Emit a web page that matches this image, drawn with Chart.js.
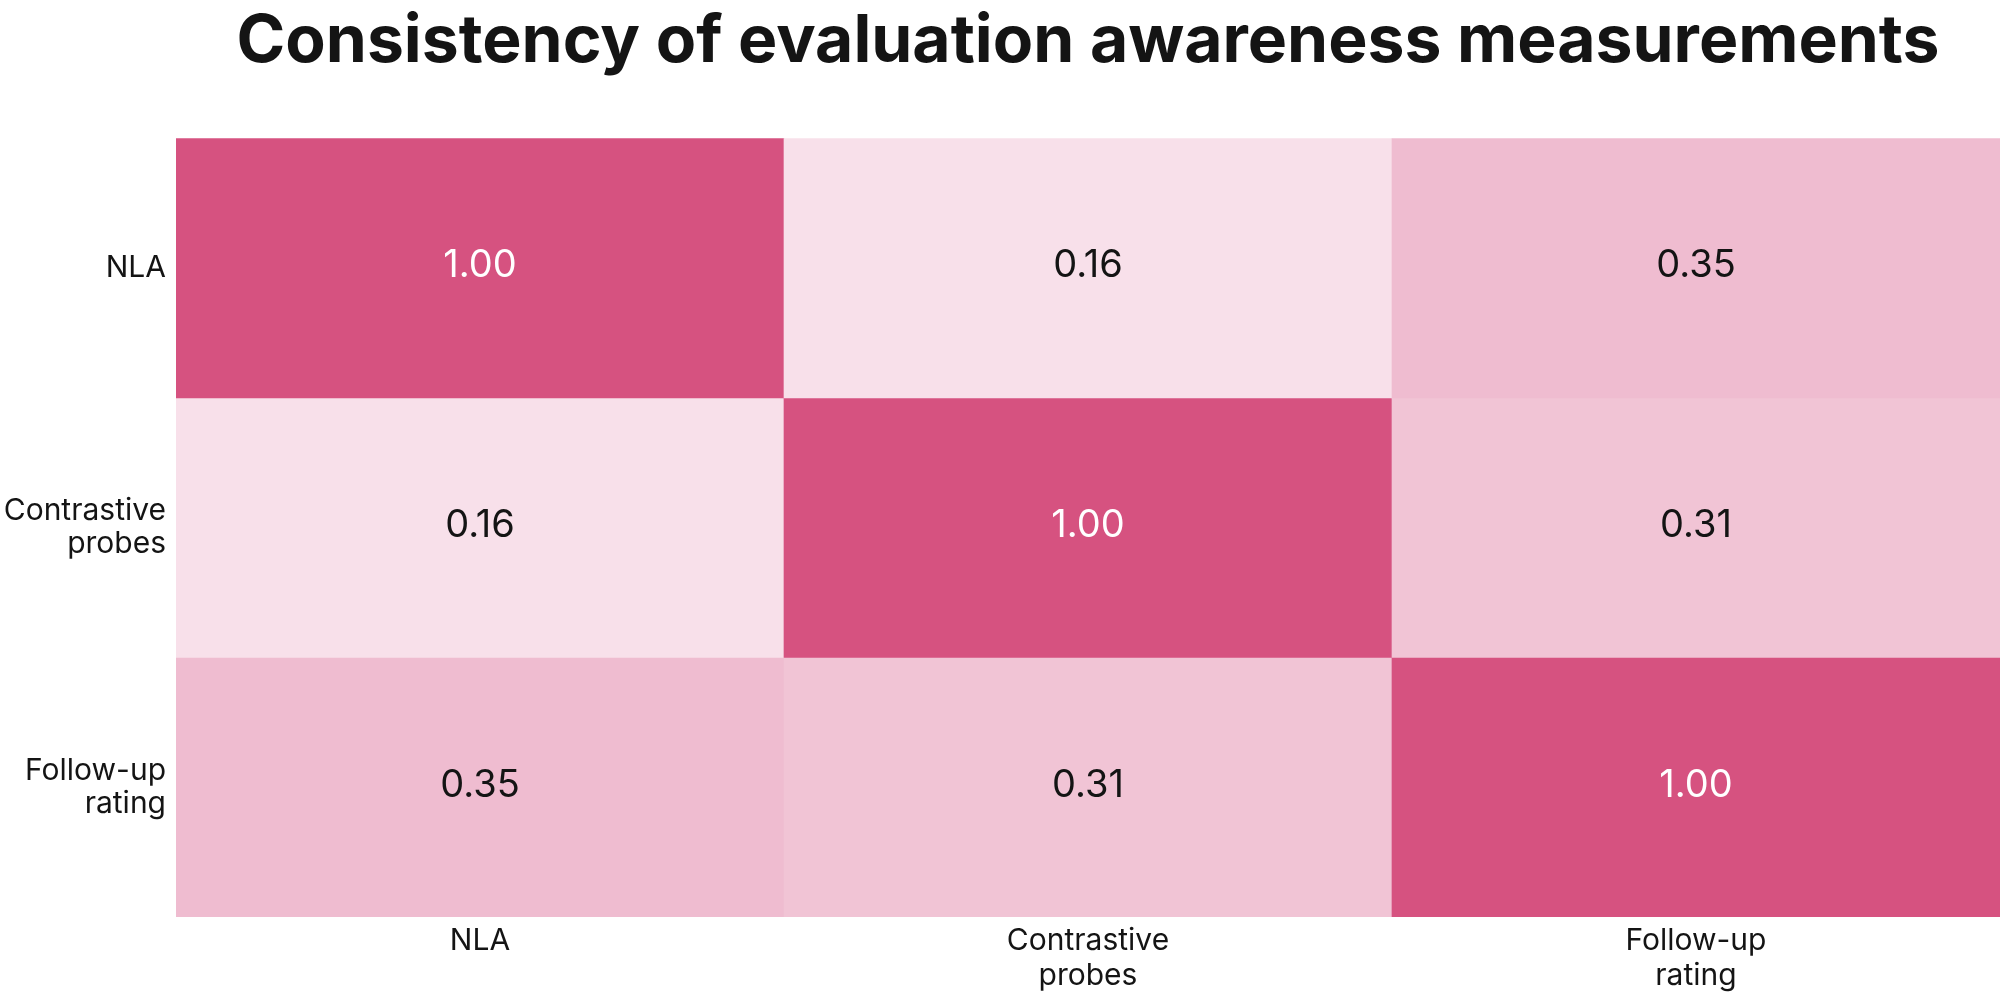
<!DOCTYPE html>
<html>
<head>
<meta charset="utf-8">
<script src="https://cdn.jsdelivr.net/npm/chart.js@4"></script>
<style>
  body { margin: 0; background: #fff; }
  #wrap { width: 2000px; height: 1000px; }
</style>
</head>
<body>
<div id="wrap"><canvas id="heatmap" width="2000" height="1000"></canvas></div>
<script>
const columns = [['NLA'], ['Contrastive', 'probes'], ['Follow-up', 'rating']];
const rows = [['NLA'], ['Contrastive', 'probes'], ['Follow-up', 'rating']];

// correlation per row (top to bottom), one value per column
const nlaRow = [1.00, 0.16, 0.35];
const contrastiveRow = [0.16, 1.00, 0.31];
const followupRow = [0.35, 0.31, 1.00];
const matrix = [nlaRow, contrastiveRow, followupRow];

// colour ramp, white -> pink
const stops = [[0, [255, 255, 255]], [0.35, [239, 188, 208]], [1, [214, 82, 128]]];
function cellColor(v) {
  for (let i = 1; i < stops.length; i++) {
    if (v <= stops[i][0]) {
      const [a, ca] = stops[i - 1], [b, cb] = stops[i];
      const t = (v - a) / (b - a);
      const c = ca.map((x, k) => Math.round(x + (cb[k] - x) * t));
      return 'rgb(' + c.join(',') + ')';
    }
  }
  return 'rgb(214,82,128)';
}

const valueLabels = {
  id: 'valueLabels',
  afterDatasetsDraw(chart) {
    const ctx = chart.ctx;
    ctx.save();
    ctx.font = '38px Inter';
    ctx.textAlign = 'center';
    ctx.textBaseline = 'middle';
    chart.data.datasets.forEach((ds, di) => {
      chart.getDatasetMeta(di).data.forEach((el, i) => {
        const v = matrix[di][i];
        ctx.fillStyle = v > 0.6 ? '#ffffff' : '#141414';
        ctx.fillText(v.toFixed(2), el.x, (el.y + el.base) / 2 - 2);
      });
    });
    ctx.restore();
  }
};

const ctx = document.getElementById('heatmap');

new Chart(ctx, {
  type: 'bar',
  data: {
    labels: columns,
    datasets: matrix.map((row, r) => ({
      label: rows[r].join(' '),
      data: row.map(() => 1),
      backgroundColor: row.map(cellColor),
      borderWidth: 0,
      barPercentage: 1,
      categoryPercentage: 1
    }))
  },
  options: {
    responsive: false,
    animation: false,
    layout: { padding: 0 },
    plugins: {
      legend: { display: false },
      tooltip: { enabled: false },
      title: {
        display: true,
        fullSize: false,
        text: 'Consistency of evaluation awareness measurements',
        color: '#141414',
        font: { family: 'Inter', size: 66, weight: '700' },
        padding: { top: 3, bottom: 56 }
      }
    },
    scales: {
      x: {
        stacked: true,
        grid: { display: false, drawTicks: false },
        border: { display: false },
        ticks: { color: '#141414', font: { family: 'Inter', size: 30, lineHeight: 1.15 }, padding: 7, maxRotation: 0 },
        afterFit: s => { s.height = 83; }
      },
      y: {
        stacked: true,
        reverse: true,
        min: 0,
        max: 3,
        grid: { display: false, drawTicks: false },
        border: { display: false },
        afterBuildTicks: s => { s.ticks = [0.5, 1.5, 2.5].map(v => ({ value: v })); },
        ticks: {
          color: '#141414',
          font: { family: 'Inter', size: 30, lineHeight: 1.1 },
          padding: 10,
          callback: (v, i) => rows[i]
        },
        afterFit: s => { s.width = 176; }
      }
    }
  },
  plugins: [valueLabels]
});
</script>
</body>
</html>
